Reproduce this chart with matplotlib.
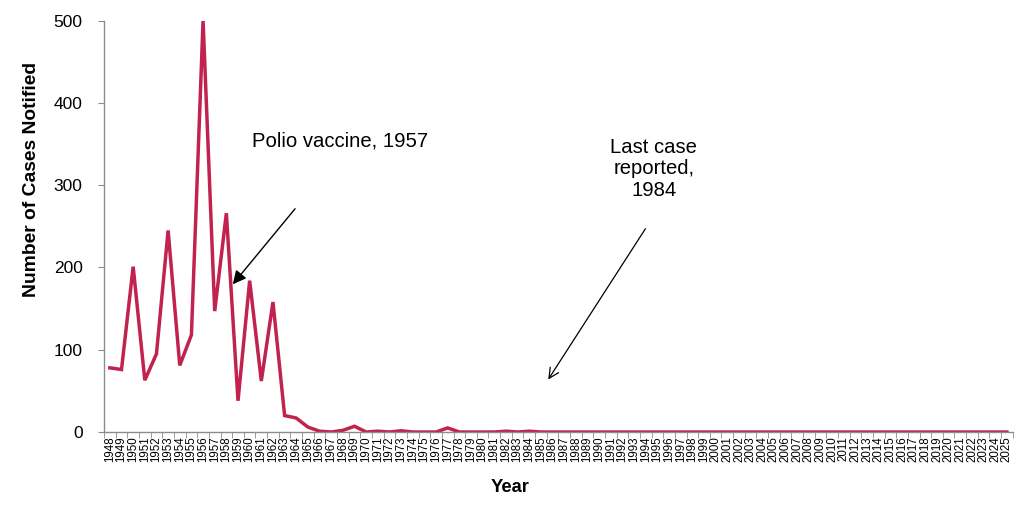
import matplotlib
matplotlib.use("Agg")
import matplotlib.pyplot as plt
import numpy as np

plt.rcParams['font.family'] = ['Liberation Sans', 'DejaVu Sans']

YEARS = list(range(1948, 2026))
CASES_EARLY = [78, 76, 201, 63, 95, 245, 81, 118, 500, 147,
               266, 38, 184, 62, 158, 20, 17, 6, 1, 0,
               2, 7, 0, 1, 0, 1.5, 0, 0, 0, 5,
               0, 0, 0, 0, 1, 0, 1]
CASES = CASES_EARLY + [0] * (len(YEARS) - len(CASES_EARLY))

LINE_COLOUR = '#C1224F'
AXIS_COLOUR = '#8C8C8C'

fig = plt.figure(figsize=(10.24, 5.14), dpi=100)
ax = fig.add_axes([0.1016, 0.1595, 0.8874, 0.8002])

x = np.arange(len(YEARS))
ax.plot(x, CASES, color=LINE_COLOUR, linewidth=2.5, solid_joinstyle='miter')

ax.set_xlim(-0.5, len(YEARS) - 0.5)
ax.set_ylim(0, 500)
ax.set_yticks([0, 100, 200, 300, 400, 500])
ax.set_xticks(x)
ax.set_xticklabels([str(y) for y in YEARS], rotation=90, fontsize=8.3)
ax.set_xticks(np.arange(-0.5, len(YEARS), 1.0), minor=True)
ax.tick_params(axis='x', which='major', length=0, pad=3)
ax.tick_params(axis='x', which='minor', length=4, color=AXIS_COLOUR)
ax.tick_params(axis='y', length=4.5, color=AXIS_COLOUR, labelsize=12.5, pad=11)

for side in ('top', 'right'):
    ax.spines[side].set_visible(False)
for side in ('left', 'bottom'):
    ax.spines[side].set_color(AXIS_COLOUR)
    ax.spines[side].set_linewidth(1.0)

# axis titles, placed where the reference has them
fig.text(0.0303, 0.650, "Number of Cases Notified", fontsize=13.9,
         fontweight='bold', rotation=90, ha='center', va='center')
fig.text(0.498, 0.0506, "Year", fontsize=13.2, fontweight='bold',
         ha='center', va='center')

# annotations
ax.annotate("", xy=(10.4, 177), xytext=(16.05, 274),
            arrowprops=dict(arrowstyle='-|>', color='black', lw=1.0,
                            mutation_scale=20))
ax.text(19.8, 354, "Polio vaccine, 1957", fontsize=14.6, ha='center', va='center')

ax.annotate("", xy=(37.5, 61), xytext=(46.1, 250),
            arrowprops=dict(arrowstyle='->', color='black', lw=0.9,
                            mutation_scale=18))
ax.text(46.7, 320, "Last case\nreported,\n1984", fontsize=14.6, ha='center',
        va='center', linespacing=1.15)

fig.savefig("out.png", dpi=100)
